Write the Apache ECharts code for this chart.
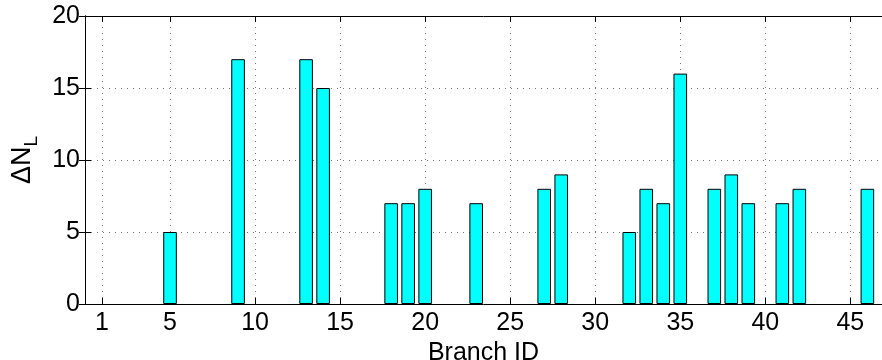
<!doctype html>
<html>
	<head>
		<meta charset="UTF-8">
		<title></title>
		<style>
			html, body{
				margin: 0;
				padding: 0;
				background: #fff;
			}
			#chart{
				width: 882px;
				height: 360px;
			}
		</style>
	</head>
	<body>
		<div id="chart"></div>
		<script src="https://cdn.jsdelivr.net/npm/echarts@6.0.0/dist/echarts.min.js"></script>
		<script type="text/javascript">
			// branch ids and their delta N_L
			var branchIds = [5, 9, 13, 14, 18, 19, 20, 23, 27, 28, 32, 33, 34, 35, 37, 38, 39, 41, 42, 46];
			var deltaNL = [5, 17, 17, 15, 7, 7, 8, 7, 8, 9, 5, 8, 7, 16, 8, 9, 7, 7, 8, 8];
			var xTicks = [1, 5, 10, 15, 20, 25, 30, 35, 40, 45];
			var yTicks = [0, 5, 10, 15, 20];

			var font = 'Liberation Sans, Arial, Helvetica, sans-serif';
			var chart = echarts.init(document.getElementById('chart'));

			var barData = [];
			for(var i = 0; i < branchIds.length; i++){
				barData.push([branchIds[i], deltaNL[i]]);
			}
			var gridLines = [];
			for(var j = 0; j < xTicks.length; j++){
				gridLines.push({xAxis: xTicks[j]});
			}

			var xBase = {
				type: 'value',
				min: 0,
				max: 46.86,
				axisLine: {show: true, onZero: false, lineStyle: {color: '#000', width: 1}},
				axisTick: {show: true, inside: true, length: 6, customValues: xTicks, lineStyle: {color: '#000'}},
				splitLine: {show: false}
			};
			var yBase = {
				type: 'value',
				min: 0,
				max: 20,
				interval: 5,
				axisLine: {show: true, lineStyle: {color: '#000', width: 1}},
				axisTick: {show: true, inside: true, length: 6, lineStyle: {color: '#000'}}
			};

			var option = {
				animation: false,
				backgroundColor: '#fff',
				grid: {left: 85, right: 0, top: 16, bottom: 56, outerBoundsMode: 'none', containLabel: false},
				xAxis: [
					Object.assign({}, xBase, {
						position: 'bottom',
						name: 'Branch ID',
						nameLocation: 'middle',
						nameGap: 31,
						nameTextStyle: {color: '#000', fontSize: 25, fontFamily: font},
						axisLabel: {show: true, customValues: xTicks, margin: 7, color: '#000', fontSize: 25, fontFamily: font}
					}),
					Object.assign({}, xBase, {
						position: 'top',
						axisLabel: {show: false}
					})
				],
				yAxis: [
					Object.assign({}, yBase, {
						position: 'left',
						name: '{n|ΔN}{s|L}',
						nameLocation: 'middle',
						nameGap: 28,
						nameTextStyle: {
							color: '#000',
							fontFamily: font,
							rich: {
								n: {fontSize: 27, lineHeight: 20, verticalAlign: 'top', fontFamily: font, color: '#000'},
								s: {fontSize: 19, lineHeight: 46, fontFamily: font, color: '#000'}
							}
						},
						axisLabel: {show: true, margin: 5, color: '#000', fontSize: 25, fontFamily: font},
						splitLine: {show: true, lineStyle: {color: '#777', type: [1, 5], width: 1}}
					}),
					Object.assign({}, yBase, {
						position: 'right',
						axisLabel: {show: false},
						splitLine: {show: false}
					})
				],
				series: [{
					type: 'bar',
					data: barData,
					barWidth: 13.6,
					itemStyle: {color: '#00ffff', borderColor: '#000', borderWidth: 1},
					markLine: {
						silent: true,
						symbol: 'none',
						label: {show: false},
						lineStyle: {color: '#777', type: [1, 5], width: 1},
						z: 0,
						data: gridLines
					}
				}]
			};
			chart.setOption(option);
		</script>
	</body>
</html>
